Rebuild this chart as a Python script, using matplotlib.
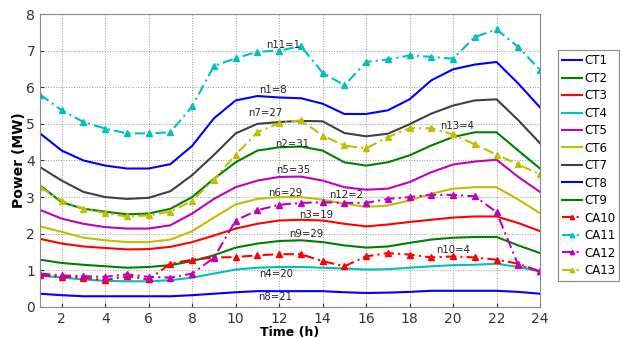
import numpy as np
import matplotlib.pyplot as plt

hours = np.arange(1, 25)

ct1 = [4.74, 4.27, 4.0, 3.86, 3.78, 3.78, 3.9, 4.4, 5.15, 5.64, 5.76, 5.72, 5.7, 5.55,
       5.27, 5.27, 5.37, 5.67, 6.19, 6.49, 6.62, 6.69, 6.1, 5.45]
ct2 = [3.32, 2.86, 2.68, 2.6, 2.53, 2.55, 2.68, 3.0, 3.5, 3.95, 4.27, 4.36, 4.38, 4.27,
       3.95, 3.86, 3.95, 4.14, 4.41, 4.64, 4.77, 4.77, 4.27, 3.78]
ct3 = [1.86, 1.73, 1.65, 1.61, 1.57, 1.58, 1.64, 1.77, 1.95, 2.14, 2.27, 2.36, 2.38, 2.36,
       2.27, 2.2, 2.25, 2.32, 2.38, 2.44, 2.47, 2.47, 2.29, 2.07]
ct4 = [0.86, 0.8, 0.75, 0.71, 0.7, 0.7, 0.73, 0.8, 0.91, 1.02, 1.07, 1.09, 1.09, 1.07,
       1.05, 1.02, 1.03, 1.07, 1.11, 1.14, 1.15, 1.18, 1.09, 0.97]
ct5 = [2.65, 2.41, 2.27, 2.18, 2.14, 2.14, 2.23, 2.55, 2.95, 3.27, 3.45, 3.55, 3.56, 3.45,
       3.27, 3.2, 3.23, 3.41, 3.68, 3.89, 3.97, 4.02, 3.55, 3.14]
ct6 = [2.2, 2.05, 1.89, 1.82, 1.77, 1.77, 1.84, 2.07, 2.44, 2.8, 2.95, 3.0, 3.0, 2.93,
       2.82, 2.73, 2.77, 2.91, 3.09, 3.23, 3.27, 3.27, 2.93, 2.56]
ct7 = [3.82, 3.45, 3.14, 3.0, 2.95, 2.98, 3.16, 3.6, 4.15, 4.74, 5.0, 5.05, 5.08, 5.07,
       4.75, 4.66, 4.73, 4.99, 5.28, 5.5, 5.64, 5.67, 5.1, 4.47]
ct8 = [0.36, 0.32, 0.29, 0.29, 0.29, 0.29, 0.29, 0.32, 0.36, 0.4, 0.43, 0.43, 0.43, 0.43,
       0.4, 0.38, 0.39, 0.41, 0.44, 0.44, 0.44, 0.44, 0.41, 0.36]
ct9 = [1.29, 1.2, 1.15, 1.11, 1.07, 1.09, 1.14, 1.25, 1.41, 1.62, 1.73, 1.8, 1.82, 1.77,
       1.68, 1.62, 1.65, 1.75, 1.84, 1.89, 1.91, 1.91, 1.68, 1.47]
ca10 = [0.86, 0.82, 0.8, 0.73, 0.84, 0.75, 1.18, 1.29, 1.35, 1.36, 1.41, 1.44, 1.44, 1.25,
        1.11, 1.38, 1.47, 1.43, 1.35, 1.38, 1.35, 1.29, 1.18, 0.97]
ca11 = [5.8, 5.37, 5.05, 4.87, 4.74, 4.74, 4.77, 5.48, 6.58, 6.79, 6.97, 7.0, 7.12, 6.4,
        6.05, 6.69, 6.76, 6.87, 6.83, 6.78, 7.37, 7.58, 7.1, 6.47]
ca12 = [0.91, 0.86, 0.84, 0.82, 0.89, 0.82, 0.8, 0.91, 1.34, 2.36, 2.64, 2.79, 2.84, 2.86,
        2.84, 2.84, 2.95, 3.0, 3.06, 3.06, 3.02, 2.59, 1.14, 0.97]
ca13 = [3.27, 2.9, 2.68, 2.56, 2.47, 2.5, 2.6, 2.9, 3.48, 4.16, 4.77, 5.02, 5.1, 4.68,
        4.41, 4.33, 4.64, 4.88, 4.88, 4.71, 4.44, 4.16, 3.89, 3.62]

series_names = ['CT1', 'CT2', 'CT3', 'CT4', 'CT5', 'CT6', 'CT7', 'CT8', 'CT9',
                'CA10', 'CA11', 'CA12', 'CA13']
series = [ct1, ct2, ct3, ct4, ct5, ct6, ct7, ct8, ct9, ca10, ca11, ca12, ca13]

# annotations: text, x, y
notes = [('n11=1', 12.2, 7.15), ('n1=8', 11.7, 5.93), ('n7=27', 11.35, 5.3),
         ('n2=31', 12.6, 4.45), ('n5=35', 12.65, 3.73), ('n6=29', 12.3, 3.12),
         ('n12=2', 15.1, 3.05), ('n3=19', 13.7, 2.5), ('n9=29', 13.25, 2.0),
         ('n10=4', 20.0, 1.56), ('n4=20', 11.85, 0.91), ('n8=21', 11.8, 0.27),
         ('n13=4', 20.2, 4.95)]

colors = {'b': (0, 0, 1), 'g': (0, 0.5, 0), 'r': (1, 0, 0), 'c': (0, 0.75, 0.75),
          'm': (0.75, 0, 0.75), 'y': (0.75, 0.75, 0), 'k': (0.25, 0.25, 0.25)}
series_colors = ['b', 'g', 'r', 'c', 'm', 'y', 'k', 'b', 'g', 'r', 'c', 'm', 'y']

fig = plt.figure(figsize=(6.2, 3.38), dpi=100)
ax = fig.add_axes([0.0645, 0.092, 0.8065, 0.8665])

for name, vals, c in zip(series_names, series, series_colors):
    if name.startswith('CA'):
        ax.plot(hours, vals, color=colors[c], linestyle=(0, (5, 2, 1, 2)), linewidth=1.5,
                marker='^', markersize=4.5, label=name)
    else:
        ax.plot(hours, vals, color=colors[c], linewidth=1.5, label=name)

for txt, x, y in notes:
    ax.text(x, y, txt, fontsize=7.3, ha='center', va='center', color='#222222')

ax.set_xlim(1, 24)
ax.set_ylim(0, 8)
ax.set_xticks(range(2, 25, 2))
ax.set_yticks(range(0, 9))
ax.tick_params(labelsize=10, colors='#333333', direction='in', length=3)
ax.grid(True, linestyle=':', color='#999999', linewidth=0.7)
for s in ax.spines.values():
    s.set_color('#888888')
ax.set_xlabel('Time (h)', fontsize=9, fontweight='bold', labelpad=0)
ax.set_ylabel('Power (MW)', fontsize=10, fontweight='bold', labelpad=0)

leg = ax.legend(loc='upper left', bbox_to_anchor=(1.036, 0.877), borderaxespad=0,
                fontsize=8.5, handlelength=1.7, handletextpad=0.15, labelspacing=0.38,
                borderpad=0.35, fancybox=False, framealpha=1, edgecolor='#888888',
                markerscale=0.7)
leg.get_frame().set_linewidth(0.8)

fig.savefig('out.png', dpi=100)
